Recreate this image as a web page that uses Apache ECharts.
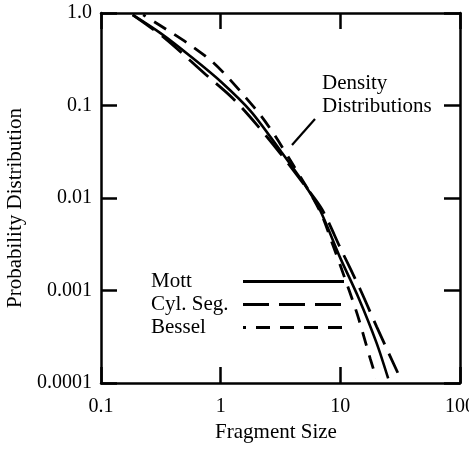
<!DOCTYPE html>
<html><head><meta charset="utf-8">
<script src="https://cdn.jsdelivr.net/npm/echarts@6.0.0/dist/echarts.min.js"></script>
<style>html,body{margin:0;padding:0;background:#fff}#c{width:469px;height:456px}</style>
</head><body><div id="c"></div>
<script>
// Data
const seriesNames = ['Mott', 'Cyl. Seg.', 'Bessel'];
const xTickLabels = ['0.1', '1', '10', '100'];
const yTickLabels = ['0.0001', '0.001', '0.01', '0.1', '1.0'];

const mottX = [0.184, 0.316, 0.562, 1.0, 1.78, 3.16, 5.01, 6.76, 10.0, 14.1, 20.0, 25.1];
const mottY = [0.955, 0.603, 0.339, 0.182, 0.0871, 0.0324, 0.0141, 0.00741, 0.00224, 0.000851, 0.000275, 0.000112];

const cylX = [0.184, 0.339, 0.741, 1.26, 2.04, 3.16, 5.01, 7.08, 10.0, 14.8, 20.1, 30.2];
const cylY = [0.955, 0.537, 0.219, 0.120, 0.0603, 0.0302, 0.0138, 0.00741, 0.00288, 0.001, 0.000407, 0.000129];

const besselX = [0.225, 0.380, 0.562, 0.832, 1.12, 1.585, 2.14, 2.82, 3.98, 5.62, 7.08, 8.51, 10.0, 13.8, 17.8, 20.0];
const besselY = [0.955, 0.624, 0.447, 0.305, 0.209, 0.126, 0.0794, 0.0479, 0.0234, 0.0112, 0.00631, 0.00331, 0.00186, 0.000562, 0.000182, 0.000112];

const FONT = '"Liberation Serif", "Times New Roman", serif';
const pairs = (xs, ys) => xs.map((x, i) => [x, ys[i]]);

const chart = echarts.init(document.getElementById('c'), null, {renderer: 'canvas'});

const axisCommon = {
  type: 'log', logBase: 10,
  axisLine: {show: true, lineStyle: {color: '#000', width: 2.5}},
  axisTick: {show: true, inside: true, length: 16, lineStyle: {color: '#000', width: 2.5}},
  minorTick: {show: false},
  splitLine: {show: false}
};

const xLabelFmt = v => {
  const i = Math.round(Math.log10(v)) + 1;
  return xTickLabels[i] !== undefined ? xTickLabels[i] : String(v);
};
const yLabelFmt = v => {
  const i = Math.round(Math.log10(v)) + 4;
  return yTickLabels[i] !== undefined ? yTickLabels[i] : String(v);
};

chart.setOption({
  animation: false,
  backgroundColor: '#fff',
  grid: {left: 101, right: 9, top: 13, bottom: 73, containLabel: false, outerBoundsMode: 'none'},
  xAxis: [
    Object.assign({}, axisCommon, {
      position: 'bottom', min: 0.1, max: 100,
      axisLabel: {show: true, formatter: xLabelFmt, color: '#000', fontFamily: FONT, fontSize: 20, margin: 14, hideOverlap: false},
      name: 'Fragment Size', nameLocation: 'middle', nameGap: 34,
      nameTextStyle: {color: '#000', fontFamily: FONT, fontSize: 21, padding: [0, 9, 0, 0]}
    }),
    Object.assign({}, axisCommon, {
      position: 'top', min: 0.1, max: 100,
      axisLabel: {show: false}
    })
  ],
  yAxis: [
    Object.assign({}, axisCommon, {
      position: 'left', min: 0.0001, max: 1,
      axisLabel: {show: true, formatter: yLabelFmt, color: '#000', fontFamily: FONT, fontSize: 20, margin: 9},
      name: 'Probability Distribution', nameLocation: 'middle', nameGap: 73,
      nameTextStyle: {color: '#000', fontFamily: FONT, fontSize: 21, padding: [0, 20, 0, 0]}
    }),
    Object.assign({}, axisCommon, {
      position: 'right', min: 0.0001, max: 1,
      axisLabel: {show: false}
    })
  ],
  legend: {
    show: true,
    orient: 'vertical',
    align: 'right',
    left: 146, top: 266,
    itemWidth: 101, itemHeight: 14, itemGap: 2,
    selectedMode: false,
    data: seriesNames,
    formatter: '{a|{name}}',
    itemStyle: {color: 'transparent', borderWidth: 0, opacity: 0},
    lineStyle: {width: 2.8},
    textStyle: {
      color: '#000', fontFamily: FONT, fontSize: 21,
      rich: {a: {width: 87, align: 'left', color: '#000', fontFamily: FONT, fontSize: 21, lineHeight: 23}}
    }
  },
  graphic: [
    {type: 'text', left: 322, top: 72, silent: true,
     style: {text: 'Density\nDistributions', fill: '#000', font: '21px ' + FONT, lineHeight: 23}},
    {type: 'line', silent: true, shape: {x1: 292, y1: 145, x2: 315, y2: 119},
     style: {stroke: '#000', lineWidth: 2.2}}
  ],
  series: [
    {name: seriesNames[0], type: 'line', smooth: 0.3, symbol: 'none',
     data: pairs(mottX, mottY),
     lineStyle: {color: '#000', width: 2.6, type: 'solid'}, itemStyle: {color: '#000'}},
    {name: seriesNames[1], type: 'line', smooth: 0.3, symbol: 'none',
     data: pairs(cylX, cylY),
     lineStyle: {color: '#000', width: 2.8, type: [26, 10]}, itemStyle: {color: '#000'}},
    {name: seriesNames[2], type: 'line', smooth: 0.3, symbol: 'none',
     data: pairs(besselX, besselY),
     lineStyle: {color: '#000', width: 2.8, type: [14, 10], dashOffset: 11}, itemStyle: {color: '#000'}}
  ]
});
</script>
</body></html>
